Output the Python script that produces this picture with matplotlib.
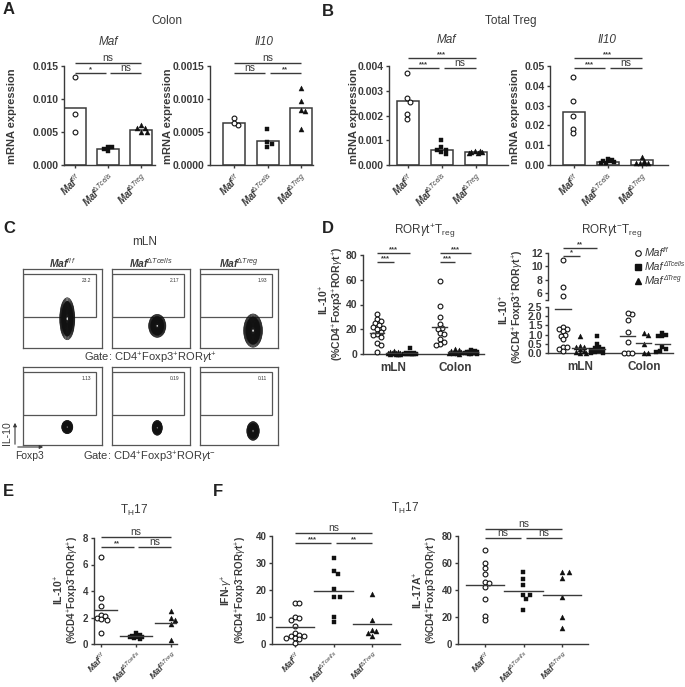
import numpy as np
import matplotlib
matplotlib.use('Agg')
import matplotlib.pyplot as plt
from matplotlib.patches import Rectangle, Ellipse, FancyArrowPatch
from matplotlib.lines import Line2D

plt.rcParams['font.family'] = ['Liberation Sans', 'DejaVu Sans']
plt.rcParams['mathtext.fontset'] = 'custom'
plt.rcParams['mathtext.rm'] = 'Liberation Sans'
plt.rcParams['mathtext.it'] = 'Liberation Sans:italic'
plt.rcParams['mathtext.bf'] = 'Liberation Sans:bold'
plt.rcParams['mathtext.bfit'] = 'Liberation Sans:bold:italic'

W, H = 685, 687
GR = '#3a3a3a'
MK = '#111111'

# ---------------- data ----------------
grp_labels = [r'$\mathbfit{Maf}^{\mathit{f/f}}$',
              r'$\mathbfit{Maf}^{\mathit{\Delta Tcells}}$',
              r'$\mathbfit{Maf}^{\mathit{\Delta Treg}}$']
legend_main = 'Maf'
legend_sup = ['f/f', 'ΔTcells', 'ΔTreg']

# A - colon mRNA
a_maf_pts = [[0.0133, 0.0078, 0.0050],
             [0.0027, 0.0021, 0.0024, 0.0028],
             [0.0056, 0.0060, 0.0050, 0.0050, 0.0056]]
a_maf_bar = [0.0086, 0.0025, 0.0053]
a_il10_pts = [[0.00060, 0.00071, 0.00063],
              [0.00055, 0.00035, 0.00027, 0.00032],
              [0.00117, 0.00097, 0.00084, 0.00082, 0.00055]]
a_il10_bar = [0.00064, 0.00037, 0.00086]

# B - total Treg mRNA
b_maf_pts = [[0.00373, 0.00271, 0.00255, 0.00207, 0.00187],
             [0.00099, 0.00072, 0.00062, 0.00061, 0.00052, 0.00045],
             [0.00056, 0.00050, 0.00053, 0.00048, 0.00057, 0.00051]]
b_maf_bar = [0.00257, 0.00060, 0.00051]
b_il10_pts = [[0.0446, 0.0324, 0.0246, 0.0183, 0.0161],
              [0.0030, 0.0025, 0.0020, 0.0016, 0.0012, 0.0010, 0.0018],
              [0.0042, 0.0022, 0.0010, 0.0008, 0.0009, 0.0012]]
b_il10_bar = [0.0268, 0.0016, 0.0027]

# C - flow, gate percentages
flow_cols = grp_labels
flow_row1 = ['23.2', '2.17', '1.93']
flow_row2 = ['1.13', '0.19', '0.11']

# D - IL-10+ (mLN, colon), order: f/f, dTreg, dTcells
d_pos_mln = [[32, 28, 27, 25, 23.5, 22, 21, 20, 18, 16, 15, 14, 9, 7, 1.5],
             [2.5, 2.0, 1.5, 1.0, 1.0, 0.8, 0.5, 0.5, 0.3, 0.2, 0.2, 0.1],
             [5.0, 1.0, 0.8, 0.5, 0.4, 0.3, 0.2, 0.2, 0.1, 0.1, 0.1, 0.0]]
d_pos_col = [[59, 39, 30, 24, 21, 20, 17, 16, 12, 10, 8, 7],
             [4.0, 3.0, 2.5, 2.0, 1.5, 1.0, 0.8, 0.5, 0.3],
             [3.0, 2.5, 2.0, 2.0, 1.5, 1.5, 1.0, 1.0, 0.8, 0.5, 0.5, 0.3, 0.2, 0.1]]
d_pos_mean = [[16.7, 1.0, 0.7], [22.0, 1.8, 1.3]]
d_neg_mln = [[10.9, 6.9, 5.6, 1.4, 1.3, 1.3, 1.2, 1.0, 0.95, 0.75, 0.35, 0.3, 0.2, 0.1],
             [0.9, 0.4, 0.35, 0.3, 0.2, 0.1, 0.05, 0.0, 0.0],
             [0.9, 0.5, 0.3, 0.25, 0.2, 0.15, 0.1, 0.05, 0.0, 0.0]]
d_neg_col = [[2.1, 2.15, 1.8, 1.15, 0.6, 0.0, 0.0, 0.0],
             [1.1, 1.0, 0.5, 0.0, 0.0],
             [1.1, 1.0, 0.95, 0.9, 0.3, 0.2, 0.1, 0.05]]
d_neg_mean = [[2.4, 0.25, 0.2], [0.9, 0.55, 0.5]]

# E - TH17 IL-10+
e_pts = [[6.6, 3.5, 2.9, 2.2, 2.1, 2.0, 1.9, 1.8, 0.85],
         [0.8, 0.7, 0.6, 0.6, 0.55, 0.5, 0.5, 0.45, 0.4],
         [2.5, 2.0, 1.8, 1.5, 0.3]]
e_mean = [2.6, 0.6, 1.6]

# F - TH17 IFN-g+ and IL-17A+
f_ifn_pts = [[15.3, 15.2, 10.0, 9.8, 9.0, 6.8, 4.2, 3.2, 3.0, 2.8, 2.4, 2.2, 2.0, 0.5],
             [32, 27, 26, 20.5, 17.5, 17.5, 10, 8],
             [18.5, 8.8, 5.2, 5.0, 4.0, 3.0]]
f_ifn_mean = [6.3, 19.6, 7.5]
f_il17_pts = [[70, 60, 56, 51.5, 46, 45, 42, 33, 21, 17.5],
              [53, 48, 44, 36, 36, 33, 25],
              [53, 53, 49, 35, 20, 12]]
f_il17_mean = [44, 39, 36.5]

# ---------------- helpers ----------------
fig = plt.figure(figsize=(6.85, 6.87), dpi=100)


def px_ax(x0, y0, x1, y1):
    return fig.add_axes([x0 / W, 1 - y1 / H, (x1 - x0) / W, (y1 - y0) / H])


def ftext(x, y, s, **kw):
    kw.setdefault('ha', 'center')
    kw.setdefault('va', 'center')
    kw.setdefault('color', GR)
    return fig.text(x / W, 1 - y / H, s, **kw)


def style(ax, yticks, ylabels, fs=7):
    for s in ['top', 'right']:
        ax.spines[s].set_visible(False)
    for s in ['left', 'bottom']:
        ax.spines[s].set_color(GR)
        ax.spines[s].set_linewidth(1.0)
    ax.tick_params(colors=GR, length=2.5, width=1, pad=1.5)
    ax.set_yticks(yticks, ylabels, fontsize=fs, fontweight='bold')


def swarm_x(ax, xc, vals, d=4.0, maxw=7.0):
    vals = np.asarray(vals, float)
    pix = ax.transData.transform(np.column_stack([np.full(len(vals), xc), vals]))
    out = np.zeros(len(vals))
    placed = []
    step = d * 0.5
    cands = [0.0]
    k = 1
    while k * step <= maxw:
        cands += [k * step, -k * step]
        k += 1
    for i in np.argsort(-vals, kind='stable'):
        px, py = pix[i]
        best, bestd = 0.0, -1
        for off in cands:
            md = min([np.hypot(px + off - qx, py - qy) for qx, qy in placed] + [1e9])
            if md >= d:
                best = off
                break
            if md > bestd:
                best, bestd = off, md
        placed.append((px + best, py))
        out[i] = ax.transData.inverted().transform((px + best, py))[0]
    return out


MARKS = [dict(marker='o', facecolor='white', edgecolor=MK, linewidths=0.8, s=12),
         dict(marker='s', facecolor=MK, edgecolor=MK, linewidths=0.3, s=11),
         dict(marker='^', facecolor=MK, edgecolor=MK, linewidths=0.3, s=13)]


def dots(ax, xc, vals, mk, d=4.2, maxw=7.0):
    xs = swarm_x(ax, xc, vals, d, maxw)
    ax.scatter(xs, vals, zorder=3, clip_on=False, **MARKS[mk])


def ypix(ax, yp):
    return ax.transData.inverted().transform((0, H - yp))[1]


def sig(ax, x0, x1, yp, txt, small=False):
    y = ypix(ax, yp)
    ax.plot([x0, x1], [y, y], color=GR, lw=1.0, clip_on=False, solid_capstyle='butt')
    ax.text((x0 + x1) / 2, y, txt, ha='center', va='bottom', color=GR,
            fontsize=5.5 if small else 7.5, clip_on=False, fontweight='bold' if small else 'normal')


def sig3(ax, ytop, ylow, t_top, t_left, t_right, xs=(0, 1, 2)):
    g = 0.07
    sig(ax, xs[0], xs[2], ytop, t_top, t_top != 'ns')
    sig(ax, xs[0], xs[1] - g, ylow, t_left, t_left != 'ns')
    sig(ax, xs[1] + g, xs[2], ylow, t_right, t_right != 'ns')


def xlab(ax, xs, fs=7):
    ax.set_xticks(xs, grp_labels, rotation=45, ha='right', rotation_mode='anchor', fontsize=fs)


def bar_panel(rect, c0, sp, pts, bars, ymax, yt, yl, tops):
    x0, y0, x1, y1 = rect
    ax = px_ax(*rect)
    ax.set_xlim((x0 - c0) / sp, (x1 - c0) / sp)
    ax.set_ylim(0, ymax)
    style(ax, yt, yl, fs=7.5)
    ax.bar([0, 1, 2], bars, width=22 / sp, color='white', edgecolor=GR, lw=1.1, zorder=1)
    for i in range(3):
        dots(ax, i, pts[i], i, d=4.2, maxw=8)
    xlab(ax, [0, 1, 2], fs=7)
    sig3(ax, tops[0], tops[1], *tops[2:])
    return ax


# ---------------- panel A ----------------
ftext(3, 10, 'A', fontsize=12, fontweight='bold', ha='left', color='#222222')
ftext(167, 21, 'Colon', fontsize=8.5)
ftext(108, 42, 'Maf', fontsize=8.5, style='italic')
ftext(264, 42, 'Il10', fontsize=8.5, style='italic')
bar_panel((64, 66, 155, 165), 75, 33, a_maf_pts, a_maf_bar, 0.015,
          [0, 0.005, 0.010, 0.015], ['0.000', '0.005', '0.010', '0.015'],
          (63, 73, 'ns', '*', 'ns'))
ftext(12, 116, 'mRNA expression', rotation=90, fontsize=8, fontweight='bold')
bar_panel((210, 66, 313, 165), 234, 33.5, a_il10_pts, a_il10_bar, 0.0015,
          [0, 0.0005, 0.0010, 0.0015], ['0.0000', '0.0005', '0.0010', '0.0015'],
          (63, 73, 'ns', 'ns', '**'))
ftext(168, 116, 'mRNA expression', rotation=90, fontsize=8, fontweight='bold')

# ---------------- panel B ----------------
ftext(322, 11, 'B', fontsize=12, fontweight='bold', ha='left', color='#222222')
ftext(511, 21, 'Total Treg', fontsize=8.5)
ftext(446, 40, 'Maf', fontsize=8.5, style='italic')
ftext(607, 40, 'Il10', fontsize=8.5, style='italic')
bar_panel((389, 66, 508, 165), 407.5, 34, b_maf_pts, b_maf_bar, 0.004,
          [0, 0.001, 0.002, 0.003, 0.004], ['0.000', '0.001', '0.002', '0.003', '0.004'],
          (58, 68, '***', '***', 'ns'))
ftext(354, 116, 'mRNA expression', rotation=90, fontsize=8, fontweight='bold')
bar_panel((550, 66, 668, 165), 573.5, 34.2, b_il10_pts, b_il10_bar, 0.05,
          [0, 0.01, 0.02, 0.03, 0.04, 0.05], ['0.00', '0.01', '0.02', '0.03', '0.04', '0.05'],
          (58, 68, '***', '***', 'ns'))
ftext(515, 116, 'mRNA expression', rotation=90, fontsize=8, fontweight='bold')

# ---------------- panel C ----------------
ftext(3, 229, 'C', fontsize=12, fontweight='bold', ha='left', color='#222222')
ftext(145, 242, 'mLN', fontsize=8.5)
col_x = [(23, 102), (112, 190), (200, 278)]
row_y = [(269, 348), (367, 445)]
# blob shapes (cx, cy, w, h) in axes fraction
blobs = [[(0.56, 0.37, 0.19, 0.53), (0.58, 0.28, 0.22, 0.29), (0.68, 0.22, 0.24, 0.42)],
         [(0.56, 0.23, 0.14, 0.17), (0.58, 0.22, 0.13, 0.19), (0.68, 0.18, 0.16, 0.24)]]
for j, (cx0, cx1) in enumerate(col_x):
    ftext((cx0 + cx1) / 2, 263, flow_cols[j], fontsize=7.5)
for r, (ry0, ry1) in enumerate(row_y):
    for j, (cx0, cx1) in enumerate(col_x):
        ax = px_ax(cx0, ry0, cx1, ry1)
        ax.set_xlim(0, 1)
        ax.set_ylim(0, 1)
        ax.set_xticks([])
        ax.set_yticks([])
        for s in ax.spines.values():
            s.set_color('#555555')
            s.set_linewidth(0.9)
        ax.add_patch(Rectangle((0, 0.39), 0.92, 0.55, fill=False, ec='#555555', lw=0.9))
        bx, by, bw, bh = blobs[r][j]
        ax.add_patch(Ellipse((bx, by), bw * 0.8, bh * 0.85, color='#1a1a1a', lw=0))
        n = 16
        for k in range(n):
            f = 1 - 0.8 * k / n
            ax.add_patch(Ellipse((bx, by), bw * f, bh * f, fill=False, ec='#111111', lw=0.5))
        ax.add_patch(Ellipse((bx, by), bw * 0.08, bh * 0.07, color='white', lw=0))
        txt = flow_row1[j] if r == 0 else flow_row2[j]
        ax.text(0.8, 0.85, txt, fontsize=3.5, ha='center', va='center', color='#333333')
ftext(150, 358, r'Gate: CD4$^{+}$Foxp3$^{+}$ROR$\gamma$t$^{+}$', fontsize=8)
ftext(150, 457, r'Gate: CD4$^{+}$Foxp3$^{+}$ROR$\gamma$t$^{-}$', fontsize=8)
fig.add_artist(FancyArrowPatch((15 / W, 1 - 447 / H), (15 / W, 1 - 420 / H), transform=fig.transFigure,
                               arrowstyle='-|>', mutation_scale=5, color=GR, lw=0.8))
fig.add_artist(FancyArrowPatch((15 / W, 1 - 447 / H), (46 / W, 1 - 447 / H), transform=fig.transFigure,
                               arrowstyle='-|>', mutation_scale=5, color=GR, lw=0.8))
ftext(7, 433, 'IL-10', rotation=90, fontsize=7.5)
ftext(30, 456, 'Foxp3', fontsize=7.5)

# ---------------- panel D ----------------
ftext(322, 229, 'D', fontsize=12, fontweight='bold', ha='left', color='#222222')
ftext(425, 231, r'ROR$\gamma$t$^{+}$T$_{\mathrm{reg}}$', fontsize=8.5)
ftext(612, 231, r'ROR$\gamma$t$^{-}$T$_{\mathrm{reg}}$', fontsize=8.5)

pos_m = [0, 1, 2]
pos_c = [3.8, 4.75, 5.7]
mk_order = [0, 2, 1]   # circles, triangles, squares

axl = px_ax(363, 255, 484, 354)
axl.set_xlim((363 - 377) / 16.5, (484 - 377) / 16.5)
axl.set_ylim(0, 80)
style(axl, [0, 20, 40, 60, 80], ['0', '20', '40', '60', '80'], fs=7.5)
for i in range(3):
    dots(axl, pos_m[i], d_pos_mln[i], mk_order[i], d=4.0, maxw=6)
    dots(axl, pos_c[i], d_pos_col[i], mk_order[i], d=4.0, maxw=6)
    axl.plot([pos_m[i] - 0.45, pos_m[i] + 0.45], [d_pos_mean[0][i]] * 2, color=GR, lw=1.0, zorder=4)
    axl.plot([pos_c[i] - 0.45, pos_c[i] + 0.45], [d_pos_mean[1][i]] * 2, color=GR, lw=1.0, zorder=4)
axl.set_xticks([pos_m[1], pos_c[1]], ['mLN', 'Colon'], fontsize=8.5, fontweight='bold')
axl.tick_params(axis='x', length=0, pad=6)
sig(axl, 0, 2, 253, '***', True)
sig(axl, 0, 1, 262, '***', True)
sig(axl, 3.8, 5.7, 253, '***', True)
sig(axl, 3.8, 4.75, 262, '***', True)
ftext(324, 300, r'IL-10$^{+}$', rotation=90, fontsize=7.5, fontweight='bold')
ftext(338, 304, r'(%CD4$^{+}$Foxp3$^{+}$ROR$\gamma$t$^{+}$)', rotation=90, fontsize=7.5, fontweight='bold')

# broken axis
pos_m2 = [0, 1, 2]
pos_c2 = [3.8, 4.75, 5.85]
xl2 = ((548 - 563) / 17, (673 - 563) / 17)
axu = px_ax(548, 253, 673, 300)
axb = px_ax(548, 307, 673, 353)
for a in (axu, axb):
    a.set_xlim(*xl2)
axu.set_ylim(5, 12)
axb.set_ylim(0, 2.5)
style(axu, [5, 6, 8, 10, 12], ['', '6', '8', '10', '12'], fs=7.5)
axu.spines['bottom'].set_visible(False)
axu.set_xticks([])
style(axb, [0, 0.5, 1.0, 1.5, 2.0, 2.5], ['0.0', '0.5', '1.0', '1.5', '2.0', '2.5'], fs=7.5)
for i in range(3):
    for pos, vals in ((pos_m2[i], d_neg_mln[i]), (pos_c2[i], d_neg_col[i])):
        hi = [v for v in vals if v > 2.5]
        lo = [v for v in vals if v <= 2.5]
        if hi:
            dots(axu, pos, hi, mk_order[i], d=4.0, maxw=6)
        dots(axb, pos, lo, mk_order[i], d=4.0, maxw=6)
    axb.plot([pos_m2[i] - 0.45, pos_m2[i] + 0.45], [d_neg_mean[0][i]] * 2, color=GR, lw=1.0, zorder=4)
    axb.plot([pos_c2[i] - 0.45, pos_c2[i] + 0.45], [d_neg_mean[1][i]] * 2, color=GR, lw=1.0, zorder=4)
axb.set_xticks([pos_m2[1], pos_c2[1]], ['mLN', 'Colon'], fontsize=8.5, fontweight='bold')
axb.tick_params(axis='x', length=0, pad=6)
sig(axu, 0, 2, 248, '**', True)
sig(axu, 0, 1, 256, '*', True)
ftext(504, 310, r'IL-10$^{+}$', rotation=90, fontsize=7.5, fontweight='bold')
ftext(518, 307, r'(%CD4$^{+}$Foxp3$^{+}$ROR$\gamma$t$^{+}$)', rotation=90, fontsize=7.5, fontweight='bold')

# legend drawn by hand so the superscripts stay tiny
leg_mk = [dict(marker='o', mfc='white', mec=MK, ms=4, mew=0.8),
          dict(marker='s', mfc=MK, mec=MK, ms=4),
          dict(marker='^', mfc=MK, mec=MK, ms=4.2)]
for k in range(3):
    yy = 253 + 14 * k
    fig.add_artist(Line2D([638 / W], [1 - yy / H], ls='none', **leg_mk[k]))
    ftext(645, yy, legend_main, fontsize=8, style='italic', ha='left')
    ftext(663, yy - 3, legend_sup[k], fontsize=4.8, style='italic', ha='left')

# ---------------- panel E ----------------
ftext(3, 491, 'E', fontsize=12, fontweight='bold', ha='left', color='#222222')
ftext(134, 510, r'T$_{\mathrm{H}}$17', fontsize=8.5)
axe = px_ax(94, 538, 177, 644)
axe.set_xlim((94 - 101) / 35, (177 - 101) / 35)
axe.set_ylim(0, 8)
style(axe, [0, 2, 4, 6, 8], ['0', '2', '4', '6', '8'], fs=7)
for i in range(3):
    dots(axe, i, e_pts[i], i, d=4.2, maxw=7)
    axe.plot([i - 0.45, i + 0.45], [e_mean[i]] * 2, color=GR, lw=1.0, zorder=4)
xlab(axe, [0, 1, 2], fs=6.5)
sig3(axe, 537, 547, 'ns', '**', 'ns')
ftext(59, 590, r'IL-10$^{+}$', rotation=90, fontsize=7.5, fontweight='bold')
ftext(73, 590, r'(%CD4$^{+}$Foxp3$^{-}$ROR$\gamma$t$^{+}$)', rotation=90, fontsize=7.0, fontweight='bold')

# ---------------- panel F ----------------
ftext(213, 491, 'F', fontsize=12, fontweight='bold', ha='left', color='#222222')
ftext(405, 508, r'T$_{\mathrm{H}}$17', fontsize=8.5)
axf1 = px_ax(272, 536, 400, 644)
axf1.set_xlim((272 - 295) / 38.5, (400 - 295) / 38.5)
axf1.set_ylim(0, 40)
style(axf1, [0, 10, 20, 30, 40], ['0', '10', '20', '30', '40'], fs=7)
for i in range(3):
    dots(axf1, i, f_ifn_pts[i], i, d=4.4, maxw=9)
    axf1.plot([i - 0.5, i + 0.5], [f_ifn_mean[i]] * 2, color=GR, lw=1.0, zorder=4)
xlab(axf1, [0, 1, 2], fs=6.5)
sig3(axf1, 533, 543, 'ns', '***', '**')
ftext(227, 590, r'IFN-$\gamma^{+}$', rotation=90, fontsize=7.5, fontweight='bold')
ftext(241, 590, r'(%CD4$^{+}$Foxp3$^{-}$ROR$\gamma$t$^{+}$)', rotation=90, fontsize=7.0, fontweight='bold')

axf2 = px_ax(458, 536, 588, 644)
axf2.set_xlim((458 - 485) / 38.5, (588 - 485) / 38.5)
axf2.set_ylim(0, 80)
style(axf2, [0, 20, 40, 60, 80], ['0', '20', '40', '60', '80'], fs=7)
for i in range(3):
    dots(axf2, i, f_il17_pts[i], i, d=4.4, maxw=9)
    axf2.plot([i - 0.5, i + 0.5], [f_il17_mean[i]] * 2, color=GR, lw=1.0, zorder=4)
xlab(axf2, [0, 1, 2], fs=6.5)
sig3(axf2, 529, 538, 'ns', 'ns', 'ns')
ftext(418, 590, r'IL-17A$^{+}$', rotation=90, fontsize=7.5, fontweight='bold')
ftext(432, 590, r'(%CD4$^{+}$Foxp3$^{-}$ROR$\gamma$t$^{+}$)', rotation=90, fontsize=7.0, fontweight='bold')

fig.savefig('out.png', dpi=100)
